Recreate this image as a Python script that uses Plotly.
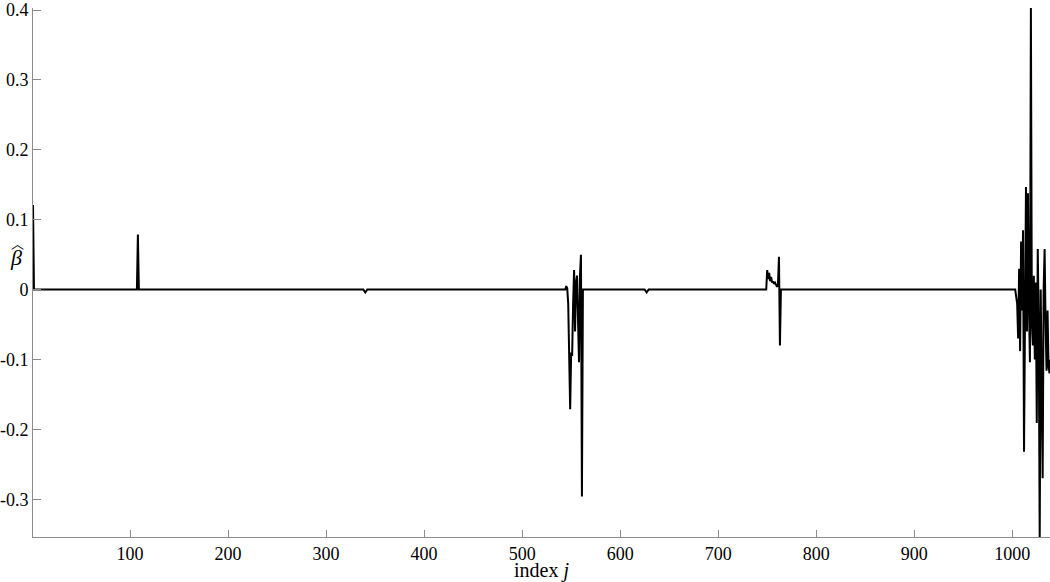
import numpy as np
import plotly.graph_objects as go

# ------------------------
# Data (sparse estimate)
# ------------------------
n_coef = 1039

# isolated spikes / small dips
single_idx = [1, 108, 339, 340, 341, 626, 627, 628]
single_val = [0.121, 0.079, -0.002, -0.004, -0.002, -0.002, -0.004, -0.002]

# cluster around j = 550
c1_idx = list(range(545, 563))
c1_val = [0.005, 0.002, -0.02, -0.1, -0.171, -0.09, -0.095, -0.02, 0.028,
          -0.06, 0.01, 0.02, -0.05, -0.104, 0.02, 0.05, -0.296, 0.0]

# cluster around j = 755
c2_idx = list(range(750, 764))
c2_val = [0.028, 0.015, 0.024, 0.012, 0.018, 0.01, 0.012, 0.008, 0.01,
          0.006, 0.004, 0.008, 0.047, -0.08]

# cluster at the end
c3_idx = list(range(1004, 1040))
c3_val = [-0.01, -0.02, -0.07, 0.03, -0.088, 0.069, -0.03, 0.085, -0.232,
          0.05, 0.147, -0.06, 0.138, -0.02, -0.104, 0.403, -0.05, -0.08,
          0.02, -0.1, 0.01, -0.191, 0.058, -0.05, -0.36, 0.0, -0.12, -0.27,
          0.0, 0.058, -0.05, -0.116, -0.03, -0.11, -0.12, -0.1]

x_ticks = [100, 200, 300, 400, 500, 600, 700, 800, 900, 1000]
y_ticks = [-0.3, -0.2, -0.1, 0, 0.1, 0.2, 0.3, 0.4]
y_ticktext = ["-0.3", "-0.2", "-0.1", "0", "0.1", "0.2", "0.3", "0.4"]

# ------------------------
# Build the coefficient vector
# ------------------------
j = np.arange(1, n_coef + 1)
beta = np.zeros(n_coef)
for idx, val in [(single_idx, single_val), (c1_idx, c1_val),
                 (c2_idx, c2_val), (c3_idx, c3_val)]:
    beta[np.array(idx) - 1] = val

# ------------------------
# Plot
# ------------------------
serif = "Liberation Serif"
axis_color = "#8c8c8c"

fig = go.Figure()
fig.add_trace(go.Scatter(
    x=j, y=beta, mode="lines",
    line=dict(color="black", width=2),
    showlegend=False
))

fig.update_layout(
    width=1050, height=582,
    margin=dict(l=33, r=0, t=0, b=45),
    paper_bgcolor="white", plot_bgcolor="white",
    font=dict(family=serif, size=18, color="black"),
    xaxis=dict(
        range=[1, 1038.5], tickvals=x_ticks,
        showgrid=False, zeroline=False,
        showline=True, linecolor=axis_color, linewidth=1,
        ticks="inside", ticklen=7, tickcolor=axis_color,
        title=dict(text="index <i>j</i>", font=dict(size=20), standoff=1),
    ),
    yaxis=dict(
        range=[-0.354, 0.403], tickvals=y_ticks, ticktext=y_ticktext,
        showgrid=False, zeroline=False, ticklabeloverflow="allow",
        showline=True, linecolor=axis_color, linewidth=1,
        ticks="inside", ticklen=8, tickcolor=axis_color,
    ),
)

# y label: beta with a wide hat drawn above it
fig.add_annotation(
    text="<i>β</i>", xref="paper", yref="y", x=-0.025, y=0.046,
    showarrow=False, font=dict(family=serif, size=22),
)
fig.add_annotation(
    text="︿", xref="paper", yref="y", x=-0.024, y=0.068,
    showarrow=False, font=dict(family="Noto Sans CJK SC", size=13),
)

fig.write_html("out.html", config={"displayModeBar": False},
               post_script="document.body.style.margin='0';")
